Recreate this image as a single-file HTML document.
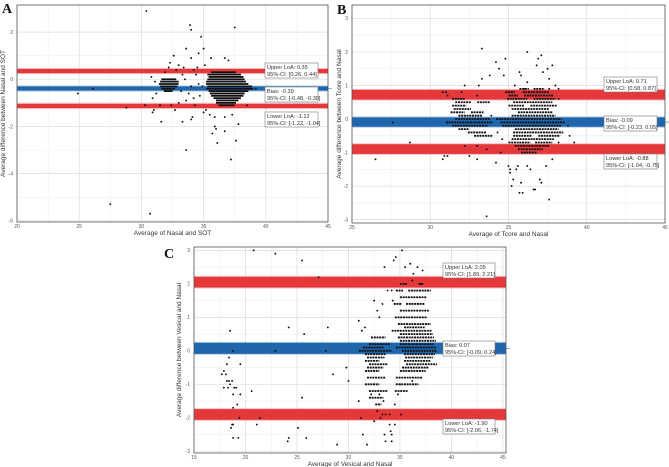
<!DOCTYPE html>
<html><head><meta charset="utf-8"><style>
html,body{margin:0;padding:0;background:#fff}
svg{display:block}
text{font-family:"Liberation Sans",sans-serif}
text.letter{font-family:"Liberation Serif",serif}
</style></head><body>
<svg id="fig" width="669" height="467" viewBox="0 0 669 467"></svg>
<script>
// ---------- DATA ----------
const aXTicks=[20,25,30,35,40,45];
const aYTicks=[2,0,-2,-4,-6];
const aStats={upper:0.35,upperLo:0.26,upperHi:0.44,bias:-0.39,biasLo:-0.48,biasHi:-0.30,lower:-1.12,lowerLo:-1.22,lowerHi:-1.04};
const aLabels=["Upper LoA: 0.35","95%-CI: [0.26, 0.44]","Bias: -0.39","95%-CI: [-0.48, -0.30]","Lower LoA: -1.12","95%-CI: [-1.22, -1.04]"];
const aPoints="30.4,2.9 33.9,2.3 34.0,2.1 37.5,2.2 34.8,1.8 35.0,1.3 33.6,1.3 34.6,1.1 32.6,1.0 34.0,0.9 35.6,0.9 36.7,0.9 37.0,0.8 32.3,0.7 33.0,0.6 35.1,0.6 34.5,0.5 33.4,0.5 32.8,0.4 34.2,0.4 31.9,0.3 33.3,0.2 34.4,0.2 33.5,0.0 34.6,-0.2 34.0,-0.3 33.8,-0.6 33.2,-0.5 34.7,-0.7 33.0,-1.0 34.3,-1.1 32.4,-1.1 31.5,-1.1 31.0,-1.3 30.9,-1.4 32.7,-1.3 35.2,-1.3 35.0,-1.4 35.5,-1.5 34.1,-1.6 34.0,-1.7 35.9,-1.6 36.7,-1.6 37.3,-1.5 35.9,-2.0 36.0,-2.1 35.7,-2.3 36.1,-2.7 36.7,-2.2 37.6,-2.6 37.8,-1.9 33.6,-3.0 37.2,-3.4 31.6,-1.8 33.3,-1.8 27.5,-5.3 30.7,-5.7 24.9,-0.6 26.1,-0.4 28.8,-1.2 30.3,-1.1 30.9,-0.8 31.1,-0.1 30.8,0.1 38.5,-1.1 39.2,-0.4 33.6,-0.9 34.9,-0.3 34.2,-0.8 32.2,0.5 31.2,-0.6";
const aRows="0.3:35.6-37.6 0.2:35.3-38.0 0.1:35.4-38.2 0.0:31.6-32.8,35.3-38.3 -0.1:31.5-33.0,35.2-38.4 -0.2:31.4-33.0,35.2-38.6 -0.3:31.5-32.9,35.3-38.9 -0.4:31.6-32.7,35.2-39.0 -0.5:31.8-32.5,35.4-38.6 -0.6:35.5-38.3 -0.7:35.6-38.2 -0.8:35.8-38.0 -0.9:36.0-37.8 -1.0:36.0-37.6 -1.1:36.2-37.5";

const bXTicks=[25,30,35,40,45];
const bYTicks=[3,2,1,0,-1,-2,-3];
const bStats={upper:0.71,upperLo:0.58,upperHi:0.87,bias:-0.09,biasLo:-0.23,biasHi:0.05,lower:-0.88,lowerLo:-1.04,lowerHi:-0.75};
const bLabels=["Upper LoA: 0.71","95%-CI: [0.58, 0.87]","Bias: -0.09","95%-CI: [-0.23, 0.05]","Lower LoA: -0.88","95%-CI: [-1.04, -0.75]"];
const bPoints="33.3,2.1 36.2,2.0 37.1,1.9 36.9,1.8 34.8,1.8 34.2,1.7 37.8,1.6 36.8,1.6 34.4,1.5 37.5,1.5 35.7,1.4 37.2,1.4 34.7,1.3 35.8,1.3 33.3,1.2 33.8,1.3 37.6,1.2 32.2,1.0 33.1,1.0 35.4,1.0 36.2,1.1 38.0,1.0 30.8,0.8 31.0,0.8 32.0,0.8 33.0,0.7 31.1,0.7 27.6,-0.1 28.7,-0.7 26.5,-1.2 30.8,-1.2 30.9,-1.1 31.1,-1.1 32.5,-1.1 33.0,-1.2 34.2,-1.3 33.6,-0.9 33.0,-0.8 32.2,-0.8 34.5,-1.0 35.0,-1.4 35.1,-1.5 35.1,-1.6 35.3,-1.8 35.5,-1.5 35.6,-1.4 35.8,-1.9 35.2,-2.0 35.7,-2.2 35.9,-2.2 36.6,-2.1 36.7,-2.1 37.0,-1.8 37.1,-1.9 37.6,-2.4 36.4,-1.5 36.2,-1.4 37.4,-1.4 37.8,-1.2 33.6,-2.9 39.2,-0.7 38.9,-0.5 38.2,-0.7 38.8,-0.2 38.2,0.6 38.2,0.9 37.6,0.9 36.0,0.9 33.9,0.1 34.6,-0.6 34.3,-0.4";
const bRows="0.9:35.7-36.3,36.6-37.3 0.8:34.8-35.4,35.9-37.6 0.7:35.0-35.6,36.0-37.9 0.6:31.4-32.2,34.9-36.2,36.6-38.0 0.5:31.6-32.6,33.0-33.8,35.3-37.8 0.4:31.4-32.3,35.0-36.0,36.4-38.1 0.3:31.5-32.6,35.2-37.6 0.2:31.3-32.2,32.6-33.4,35.6-37.8 0.1:31.8-33.3,35.2-38.0 0.0:31.6-33.8,34.2-38.4 -0.1:31.0-34.0,34.5-38.6 -0.2:31.4-33.7,34.6-38.4 -0.3:31.8-32.5,35.4-38.2 -0.4:32.4-33.6,35.3-38.5 -0.5:32.8-34.0,35.3-36.5,36.9-38.3 -0.6:35.2-37.9 -0.7:35.0-36.4,36.7-37.8 -0.8:35.4-37.6 -0.9:35.6-37.2 -1.0:35.8-36.8";

const cXTicks=[15,20,25,30,35,40,45];
const cYTicks=[3,2,1,0,-1,-2,-3];
const cStats={upper:2.05,upperLo:1.89,upperHi:2.21,bias:0.07,biasLo:-0.09,biasHi:0.24,lower:-1.90,lowerLo:-2.06,lowerHi:-1.74};
const cLabels=["Upper LoA: 2.05","95%-CI: [1.89, 2.21]","Bias: 0.07","95%-CI: [-0.09, 0.24]","Lower LoA: -1.90","95%-CI: [-2.06, -1.74]"];
const cPoints="20.8,3.0 22.9,2.9 25.5,2.7 27.1,2.2 35.2,3.0 36.0,2.6 35.5,2.5 34.6,2.8 34.4,2.7 33.5,2.5 36.7,2.5 37.2,2.4 36.3,2.3 18.5,0.6 24.2,0.7 28.0,0.7 25.7,0.5 31.0,0.9 22.9,0.0 18.8,0.0 27.8,0.0 19.5,-0.4 18.2,-0.4 18.4,-0.2 17.9,-0.6 17.7,-0.7 18.1,-0.7 18.2,-0.9 18.4,-0.9 18.7,-0.9 17.9,-1.1 18.3,-1.1 18.5,-1.0 18.9,-1.1 19.1,-1.1 19.5,-1.3 18.8,-1.3 19.2,-1.6 18.8,-1.7 19.4,-2.0 18.8,-2.2 18.6,-2.3 18.7,-2.2 18.8,-2.6 19.3,-2.6 20.6,-1.2 21.1,-2.2 21.4,-2.0 24.2,-2.6 24.1,-2.7 25.1,-2.3 25.5,-1.4 25.9,-2.6 28.9,-2.8 28.5,-0.7 29.8,-0.5 30.0,-0.9 31.0,-1.5 31.2,-2.0 31.4,-2.5 31.8,-2.8 32.5,-2.1 32.8,-1.8 33.1,-2.0 33.3,-1.9 33.5,-2.5 33.6,-2.7 34.0,-2.2 34.1,-2.4 34.2,-2.5 34.2,-2.7 34.5,-2.2 33.6,-1.9 34.0,-1.9 35.1,-1.9 34.5,-1.6 34.8,-1.3 32.5,1.5 33.3,1.4 32.8,1.2 33.0,1.0 31.3,0.6 31.6,0.7 33.8,1.8 34.2,1.8 34.3,1.5 36.2,2.1 35.6,2.0 37.0,2.0 33.4,-1.5 33.0,-1.3 32.2,-1.3 35.0,-1.0 36.2,-0.9";
const cRows="2.0:35.0-35.6,36.8-37.3 1.8:34.6-35.3,35.8-38.0 1.6:35.0-37.6 1.4:34.4-35.2,35.6-37.4 1.2:35.0-37.8 1.0:34.5-37.6 0.8:34.8-38.0 0.7:35.4-37.4 0.6:34.2-38.1 0.5:35.0-38.2 0.4:32.2-33.6,34.8-38.3 0.3:35.0-38.5 0.2:32.0-34.0,35.0-38.3 0.1:31.4-33.4,34.6-38.5 0.0:31.0-34.2,35.2-38.6 -0.1:31.6-33.6,35.4-38.4 -0.2:31.8-33.5,35.5-38.2 -0.3:31.6-33.0,35.4-38.0 -0.4:32.0-33.8,35.6-38.6 -0.5:31.8-33.4,35.2-37.8 -0.6:31.6-33.0,35.0-37.5 -0.8:31.8-33.6,34.6-37.2 -1.0:31.6-33.0,34.6-36.8 -1.2:32.0-33.8,34.5-35.8 -1.4:32.0-33.4 -1.6:32.6-33.2";

// ---------- DRAW ----------
const NS="http://www.w3.org/2000/svg";
const svg=document.getElementById('fig');
function mk(tag,attrs,parent){const e=document.createElementNS(NS,tag);for(const k in attrs)e.setAttribute(k,attrs[k]);(parent||svg).appendChild(e);return e;}
function parsePts(s){return s.trim().split(/\s+/).map(p=>p.split(',').map(Number));}
function parseRows(s){return s.trim().split(/\s+/).map(r=>{const [y,segs]=r.split(':');return {y:+y,segs:segs.split(',').map(g=>{const m=g.match(/^(-?[\d.]+)-(-?[\d.]+)$/);return [+m[1],+m[2]];})};});}

function panel(cfg){
  const g=mk('g',{});
  
  
  const {L,R,T,B,x0,x1,y0,y1}=cfg;
  const sx=v=>L+(v-x0)/(x1-x0)*(R-L);
  const sy=v=>T+(y1-v)/(y1-y0)*(B-T);
  for(let i=0;i<cfg.xt.length-1;i++){const v=(cfg.xt[i]+cfg.xt[i+1])/2;mk('line',{x1:sx(v),x2:sx(v),y1:T,y2:B,stroke:'#ececec','stroke-width':0.5},g);}
  for(let i=0;i<cfg.yt.length-1;i++){const v=(cfg.yt[i]+cfg.yt[i+1])/2;mk('line',{x1:L,x2:R,y1:sy(v),y2:sy(v),stroke:'#ececec','stroke-width':0.5},g);}
  cfg.xt.forEach(v=>{
    mk('line',{x1:sx(v),x2:sx(v),y1:T,y2:B,stroke:'#dcdcdc','stroke-width':0.7},g);
    const t=mk('text',{x:sx(v),y:B+6,'font-size':5,fill:'#555','text-anchor':'middle'},g);t.textContent=v;
    
    
  });
  cfg.yt.forEach(v=>{
    mk('line',{x1:L,x2:R,y1:sy(v),y2:sy(v),stroke:'#dcdcdc','stroke-width':0.7},g);
    const t=mk('text',{x:L-4,y:sy(v)+1.8,'font-size':5,fill:'#555','text-anchor':'end'},g);t.textContent=v;
    
    
  });
  const s=cfg.stats;
  const band=(lo,hi,col,name)=>{
    mk('rect',{x:L,y:sy(hi)-1,width:R-L,height:sy(lo)-sy(hi)+2,fill:col,opacity:0.3},g);
    const r=mk('rect',{x:L,y:sy(hi),width:R-L,height:sy(lo)-sy(hi),fill:col},g);
    
    
  };
  band(s.upperLo,s.upperHi,'#e5383b','upper-loa-band');
  band(s.biasLo,s.biasHi,'#1f66ad','bias-band');
  band(s.lowerLo,s.lowerHi,'#e5383b','lower-loa-band');
  mk('line',{x1:L,x2:R+4,y1:sy(s.bias),y2:sy(s.bias),stroke:'#1f66ad','stroke-width':0.6},g);
  parseRows(cfg.rows).forEach(r=>r.segs.forEach(([a,b])=>{
    const e=mk('line',{x1:sx(a),x2:sx(b),y1:sy(r.y),y2:sy(r.y),stroke:'#111','stroke-width':1.8,'stroke-dasharray':cfg.dash},g);
    
    
  }));
  parsePts(cfg.pts).forEach(([x,y])=>{
    const c=mk('circle',{cx:sx(x),cy:sy(y),r:0.95,fill:'#111'},g);
    
    
  });
  mk('rect',{x:L,y:T,width:R-L,height:B-T,fill:'none',stroke:'#555','stroke-width':0.8},g);
  cfg.boxY.forEach((by,i)=>{
    const bg=mk('g',{},g);
    
    
    mk('rect',{x:cfg.boxX,y:by,width:cfg.boxW,height:15,fill:'#fff',stroke:'#777','stroke-width':0.6},bg);
    const t1=mk('text',{x:cfg.boxX+2,y:by+6,'font-size':5.6,fill:'#333'},bg);t1.textContent=cfg.labels[i*2];
    const t2=mk('text',{x:cfg.boxX+2,y:by+13,'font-size':5.6,fill:'#333'},bg);t2.textContent=cfg.labels[i*2+1];
  });
  const xt=mk('text',{x:(L+R)/2,y:B+13,'font-size':6.5,fill:'#333','text-anchor':'middle'},g);xt.textContent=cfg.xTitle;
  
  
  const ytx=cfg.yTitleX, yty=(T+B)/2;
  const yt=mk('text',{x:ytx,y:yty,'font-size':6.5,fill:'#333','text-anchor':'middle',transform:`rotate(-90 ${ytx} ${yty})`},g);yt.textContent=cfg.yTitle;
  
  
  const pl=mk('text',{x:cfg.letter[0],y:cfg.letter[1],'font-size':14,'font-weight':'bold',fill:'#111','class':'letter'},g);pl.textContent=cfg.letterText;
  
  
}

panel({name:'panel-a',L:17,R:328,T:5,B:222,x0:20,x1:45,y0:-6.05,y1:3.15,xt:aXTicks,yt:aYTicks,stats:aStats,labels:aLabels,pts:aPoints,rows:aRows,dash:'none',
  boxX:265,boxW:53,boxY:[63,87,112],xTitle:'Average of Nasal and SOT',yTitle:'Average difference between Nasal and SOT',yTitleX:5,letter:[2,13],letterText:'A'});
panel({name:'panel-b',L:352,R:665,T:5,B:223,x0:25,x1:45,y0:-3.1,y1:3.4,xt:bXTicks,yt:bYTicks,stats:bStats,labels:bLabels,pts:bPoints,rows:bRows,dash:'2 0.7',
  boxX:604,boxW:53,boxY:[77,116,154],xTitle:'Average of Tcore and Nasal',yTitle:'Average difference between Tcore and Nasal',yTitleX:341,letter:[337,14],letterText:'B'});
panel({name:'panel-c',L:194,R:506,T:247,B:453,x0:15,x1:45.3,y0:-3.05,y1:3.1,xt:cXTicks,yt:cYTicks,stats:cStats,labels:cLabels,pts:cPoints,rows:cRows,dash:'2 0.7',
  boxX:443,boxW:52,boxY:[263,341,419],xTitle:'Average of Vesical and Nasal',yTitle:'Average difference between Vesical and Nasal',yTitleX:181,letter:[164,258],letterText:'C'});
</script>
</body></html>
